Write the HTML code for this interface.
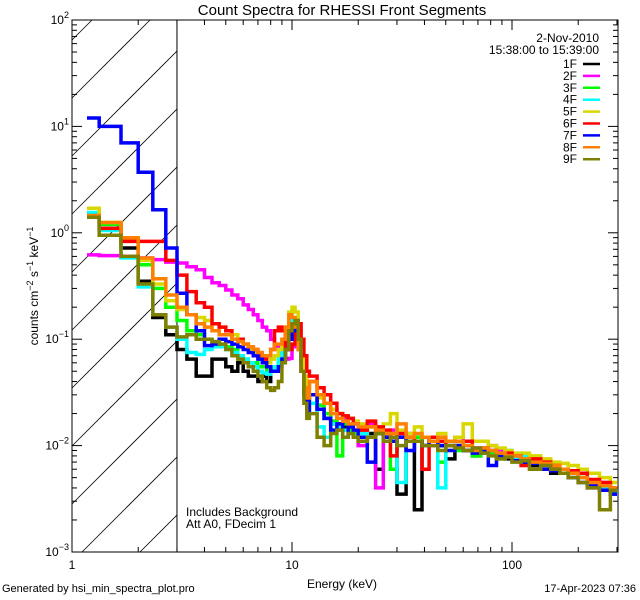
<!DOCTYPE html>
<html><head><meta charset="utf-8">
<style>
html,body{margin:0;padding:0;background:#fff;width:640px;height:600px;overflow:hidden;}
svg{display:block;font-family:"Liberation Sans",sans-serif;}
</style></head>
<body>
<svg id="chart" width="640" height="600" viewBox="0 0 640 600">
<rect x="0" y="0" width="640" height="600" fill="#fff"/>
<text x="342" y="15" text-anchor="middle" font-size="15">Count Spectra for RHESSI Front Segments</text>
<g id="hatch"></g>
<g id="axes"></g>
<g id="series"></g>
<g id="legend"></g>
<text x="186" y="516" font-size="12">Includes Background</text>
<text x="186" y="528" font-size="12">Att A0, FDecim 1</text>
<text x="342" y="588" text-anchor="middle" font-size="12">Energy (keV)</text>
<text transform="translate(38,286) rotate(-90)" text-anchor="middle" font-size="12">counts cm<tspan dy="-5" font-size="9">−2</tspan><tspan dy="5"> s</tspan><tspan dy="-5" font-size="9">−1</tspan><tspan dy="5"> keV</tspan><tspan dy="-5" font-size="9">−1</tspan></text>
<text x="2" y="592" font-size="11">Generated by hsi_min_spectra_plot.pro</text>
<text x="636" y="592" text-anchor="end" font-size="11">17-Apr-2023 07:36</text>
<text x="599" y="42" text-anchor="end" font-size="12">2-Nov-2010</text>
<text x="599" y="54" text-anchor="end" font-size="12">15:38:00 to 15:39:00</text>
</svg>
<script>
const edges=[1.17,1.33,1.67,2,2.33,2.67,3,3.33,3.67,4,4.33,4.67,5,5.33,5.67,6,6.33,6.67,7,7.33,7.67,8,8.33,8.67,9,9.33,9.67,10,10.33,10.67,11,11.33,11.67,12,13,14,15,16,17,18,19,20,22,24,26,28,30,33,36,39,42,46,50,55,60,66,72,78,85,93,100,110,120,135,150,165,180,200,220,250,280,300];
const seriesNames=["1F","2F","3F","4F","5F","6F","7F","8F","9F"];
const seriesColors=["#000000","#ff00ff","#00ff00","#00ffff","#d8d800","#ff0000","#0000ff","#ff8000","#808000"];
const lo1F=[1.4,1.2,0.72,0.35,0.16,0.11,0.08,0.065,0.045,0.045,0.065,0.065,0.055,0.05,0.06,0.05,0.045,0.045,0.04,0.045,0.04,0.05,0.055,0.06,0.065,0.08,0.1,0.13,0.14,0.1,0.06,0.04,0.03];
const hi1F=[0.03,0.022,0.018,0.016,0.016,0.015,0.013,0.014,0.011,0.013,0.006,0.012,0.011,0.0035,0.012,0.0025,0.010,0.011,0.010,0.0075,0.010,0.009,0.008,0.009,0.0085,0.008,0.0075,0.0078,0.007,0.0065,0.006,0.0055,0.006,0.0055,0.005,0.0045,0.004,0.0035];
const lo2F=[0.62,0.61,0.6,0.58,0.56,0.53,0.52,0.48,0.45,0.38,0.34,0.32,0.29,0.26,0.24,0.21,0.19,0.17,0.15,0.13,0.12,0.1,0.085,0.08,0.07,0.065,0.066,0.085,0.1,0.08,0.06,0.045,0.035];
const hi2F=[0.04,0.03,0.025,0.022,0.016,0.018,0.015,0.014,0.010,0.016,0.004,0.013,0.014,0.012,0.013,0.011,0.012,0.010,0.011,0.011,0.012,0.010,0.0095,0.009,0.010,0.009,0.0085,0.0075,0.008,0.0075,0.007,0.0065,0.006,0.0055,0.005,0.004,0.0045,0.004];
const lo3F=[1.45,1.2,0.85,0.5,0.3,0.2,0.15,0.12,0.11,0.1,0.095,0.09,0.085,0.08,0.07,0.065,0.06,0.06,0.055,0.055,0.05,0.05,0.055,0.06,0.07,0.09,0.12,0.14,0.12,0.08,0.05,0.035,0.025];
const hi3F=[0.03,0.024,0.02,0.017,0.008,0.016,0.014,0.013,0.014,0.012,0.013,0.012,0.006,0.012,0.011,0.012,0.010,0.011,0.007,0.010,0.009,0.010,0.008,0.009,0.0085,0.0075,0.008,0.0077,0.0072,0.007,0.006,0.0065,0.0055,0.005,0.005,0.0045,0.004,0.0037];
const lo4F=[1.55,1.05,0.58,0.31,0.17,0.13,0.1,0.075,0.072,0.08,0.085,0.085,0.08,0.075,0.07,0.065,0.06,0.055,0.05,0.048,0.047,0.05,0.055,0.065,0.08,0.1,0.13,0.15,0.12,0.08,0.05,0.03,0.022];
const hi4F=[0.025,0.015,0.012,0.016,0.015,0.014,0.013,0.014,0.013,0.012,0.013,0.011,0.012,0.0045,0.011,0.011,0.010,0.011,0.004,0.010,0.0095,0.010,0.009,0.0085,0.009,0.0085,0.009,0.0075,0.008,0.007,0.0065,0.006,0.006,0.0055,0.005,0.0045,0.004,0.0035];
const lo5F=[1.7,1.25,0.87,0.55,0.33,0.23,0.19,0.17,0.16,0.15,0.14,0.13,0.12,0.11,0.1,0.09,0.08,0.075,0.07,0.065,0.06,0.065,0.07,0.08,0.1,0.13,0.18,0.2,0.18,0.12,0.07,0.045,0.035];
const hi5F=[0.04,0.028,0.025,0.022,0.02,0.019,0.018,0.017,0.016,0.015,0.014,0.016,0.02,0.014,0.013,0.015,0.012,0.012,0.013,0.011,0.012,0.016,0.011,0.011,0.010,0.0095,0.009,0.0085,0.0085,0.008,0.0075,0.007,0.0068,0.0065,0.006,0.0055,0.005,0.0045];
const lo6F=[1.45,1.1,0.83,0.83,0.83,0.55,0.4,0.28,0.22,0.2,0.14,0.13,0.12,0.1,0.1,0.09,0.085,0.08,0.07,0.065,0.07,0.08,0.12,0.13,0.12,0.08,0.08,0.09,0.12,0.14,0.1,0.07,0.05];
const hi6F=[0.045,0.035,0.03,0.025,0.02,0.019,0.018,0.016,0.014,0.017,0.015,0.014,0.008,0.013,0.012,0.011,0.006,0.012,0.011,0.010,0.010,0.011,0.009,0.0095,0.009,0.0085,0.0085,0.008,0.0065,0.0075,0.007,0.0065,0.006,0.0058,0.0055,0.0048,0.0045,0.004];
const lo7F=[12,10,7,3.7,1.65,0.72,0.27,0.17,0.12,0.087,0.09,0.1,0.095,0.09,0.085,0.08,0.075,0.07,0.065,0.06,0.055,0.05,0.05,0.055,0.065,0.08,0.1,0.12,0.13,0.09,0.05,0.03,0.02];
const hi7F=[0.03,0.022,0.018,0.014,0.016,0.012,0.015,0.014,0.012,0.007,0.013,0.012,0.011,0.012,0.009,0.011,0.010,0.011,0.010,0.009,0.010,0.009,0.0085,0.009,0.0065,0.008,0.0078,0.0072,0.007,0.0068,0.006,0.0058,0.0055,0.005,0.0045,0.0042,0.0038,0.0035];
const lo8F=[1.45,1.25,0.9,0.58,0.37,0.26,0.2,0.17,0.14,0.13,0.12,0.11,0.11,0.1,0.095,0.09,0.085,0.08,0.075,0.07,0.07,0.08,0.09,0.09,0.1,0.13,0.17,0.16,0.13,0.08,0.05,0.035,0.028];
const hi8F=[0.04,0.03,0.025,0.02,0.018,0.017,0.016,0.016,0.015,0.015,0.014,0.013,0.013,0.016,0.012,0.013,0.012,0.011,0.012,0.011,0.011,0.010,0.009,0.0095,0.009,0.0085,0.008,0.008,0.0075,0.007,0.0068,0.0065,0.006,0.0055,0.005,0.0045,0.0042,0.004];
const lo9F=[1.4,0.95,0.6,0.33,0.17,0.13,0.105,0.11,0.1,0.1,0.095,0.09,0.08,0.07,0.065,0.06,0.055,0.05,0.045,0.04,0.035,0.033,0.035,0.04,0.06,0.08,0.12,0.14,0.15,0.1,0.05,0.025,0.018];
const hi9F=[0.02,0.012,0.010,0.013,0.014,0.012,0.013,0.012,0.011,0.012,0.013,0.011,0.012,0.010,0.011,0.011,0.010,0.010,0.009,0.010,0.0095,0.009,0.0095,0.0085,0.008,0.0075,0.0078,0.007,0.0072,0.006,0.0065,0.006,0.0055,0.005,0.0045,0.004,0.0025,0.0038];
const yTickLabels=["2","1","0","−1","−2","−3"];
const xTickLabels=["1","10","100"];

const NS="http://www.w3.org/2000/svg";
const X0=72,X1=618,Y0=20,Y1=552,PXD=220,PYD=106.4;
const xs=e=>X0+PXD*Math.log10(e);
const ys=v=>Y1-PYD*(Math.log10(v)+3);
function mk(tag,attrs,parent){const el=document.createElementNS(NS,tag);for(const k in attrs)el.setAttribute(k,attrs[k]);parent.appendChild(el);return el;}

const hatch=document.getElementById('hatch');
const HX=xs(3);
for(let k=-2;k<12;k++){
  const yb=Y1+10-k*58; // y at x=X0, slope -1
  let xa=X0,xb=HX;
  if(yb>Y1)xa=X0+(yb-Y1);
  if(yb-(HX-X0)<Y0)xb=X0+(yb-Y0);
  if(xb<=xa)continue;
  const ln=mk('line',{x1:xa,y1:yb-(xa-X0),x2:xb,y2:yb-(xb-X0),stroke:'#000','stroke-width':0.8},hatch);
  
  
}
const axes=document.getElementById('axes');
const frame=mk('rect',{x:X0,y:Y0,width:X1-X0,height:Y1-Y0,fill:'none',stroke:'#000','stroke-width':1},axes);


const vl=mk('line',{x1:HX,y1:Y0,x2:HX,y2:Y1,stroke:'#000','stroke-width':1},axes);


for(let d=-3;d<=2;d++){
  for(let m=1;m<=9;m++){
    if(d===2&&m>1)break;
    const y=ys(m*Math.pow(10,d));
    const L=m===1?10:5;
    const t1=mk('line',{x1:X0,y1:y,x2:X0+L,y2:y,stroke:'#000'},axes);
    
    
    const t2=mk('line',{x1:X1,y1:y,x2:X1-L,y2:y,stroke:'#000'},axes);
    
    
  }
}
yTickLabels.forEach((lab,i)=>{
  const y=ys(Math.pow(10,2-i));
  const t=mk('text',{x:X0-3,y:y+4,'text-anchor':'end','font-size':12},axes);
  
  
  t.innerHTML='10<tspan dy="-6" font-size="9">'+lab+'</tspan>';
});
for(let d=0;d<=2;d++){
  for(let m=1;m<=9;m++){
    const e=m*Math.pow(10,d);const x=xs(e);if(x>X1)break;
    const L=m===1?10:5;
    const t1=mk('line',{x1:x,y1:Y1,x2:x,y2:Y1-L,stroke:'#000'},axes);
    
    
    const t2=mk('line',{x1:x,y1:Y0,x2:x,y2:Y0+L,stroke:'#000'},axes);
    
    
  }
}
xTickLabels.forEach((lab,i)=>{
  const t=mk('text',{x:xs(Math.pow(10,i)),y:Y1+17,'text-anchor':'middle','font-size':12},axes);
  
  
  t.textContent=lab;
});
const lows=[lo1F,lo2F,lo3F,lo4F,lo5F,lo6F,lo7F,lo8F,lo9F];
const highs=[hi1F,hi2F,hi3F,hi4F,hi5F,hi6F,hi7F,hi8F,hi9F];
const sg=document.getElementById('series');
const legend=document.getElementById('legend');
seriesNames.forEach((nm,i)=>{
  const vals=lows[i].concat(highs[i]);
  let d='';
  vals.forEach((v,j)=>{
    const xa=xs(edges[j]),xb=Math.min(xs(edges[j+1]),X1),y=ys(v);
    d+=(j===0?'M':'L')+xa.toFixed(1)+','+y.toFixed(1)+'L'+xb.toFixed(1)+','+y.toFixed(1);
  });
  const p=mk('path',{d:d,fill:'none',stroke:seriesColors[i],'stroke-width':3.5,'stroke-linejoin':'miter'},sg);
  
  
  const ly=64+i*11.9;
  const lt=mk('text',{x:577,y:ly+4,'text-anchor':'end','font-size':12},legend);
  
  
  lt.textContent=nm;
  const ll=mk('line',{x1:583,y1:ly,x2:600,y2:ly,stroke:seriesColors[i],'stroke-width':2.5},legend);
  
  
});
</script>
</body></html>
